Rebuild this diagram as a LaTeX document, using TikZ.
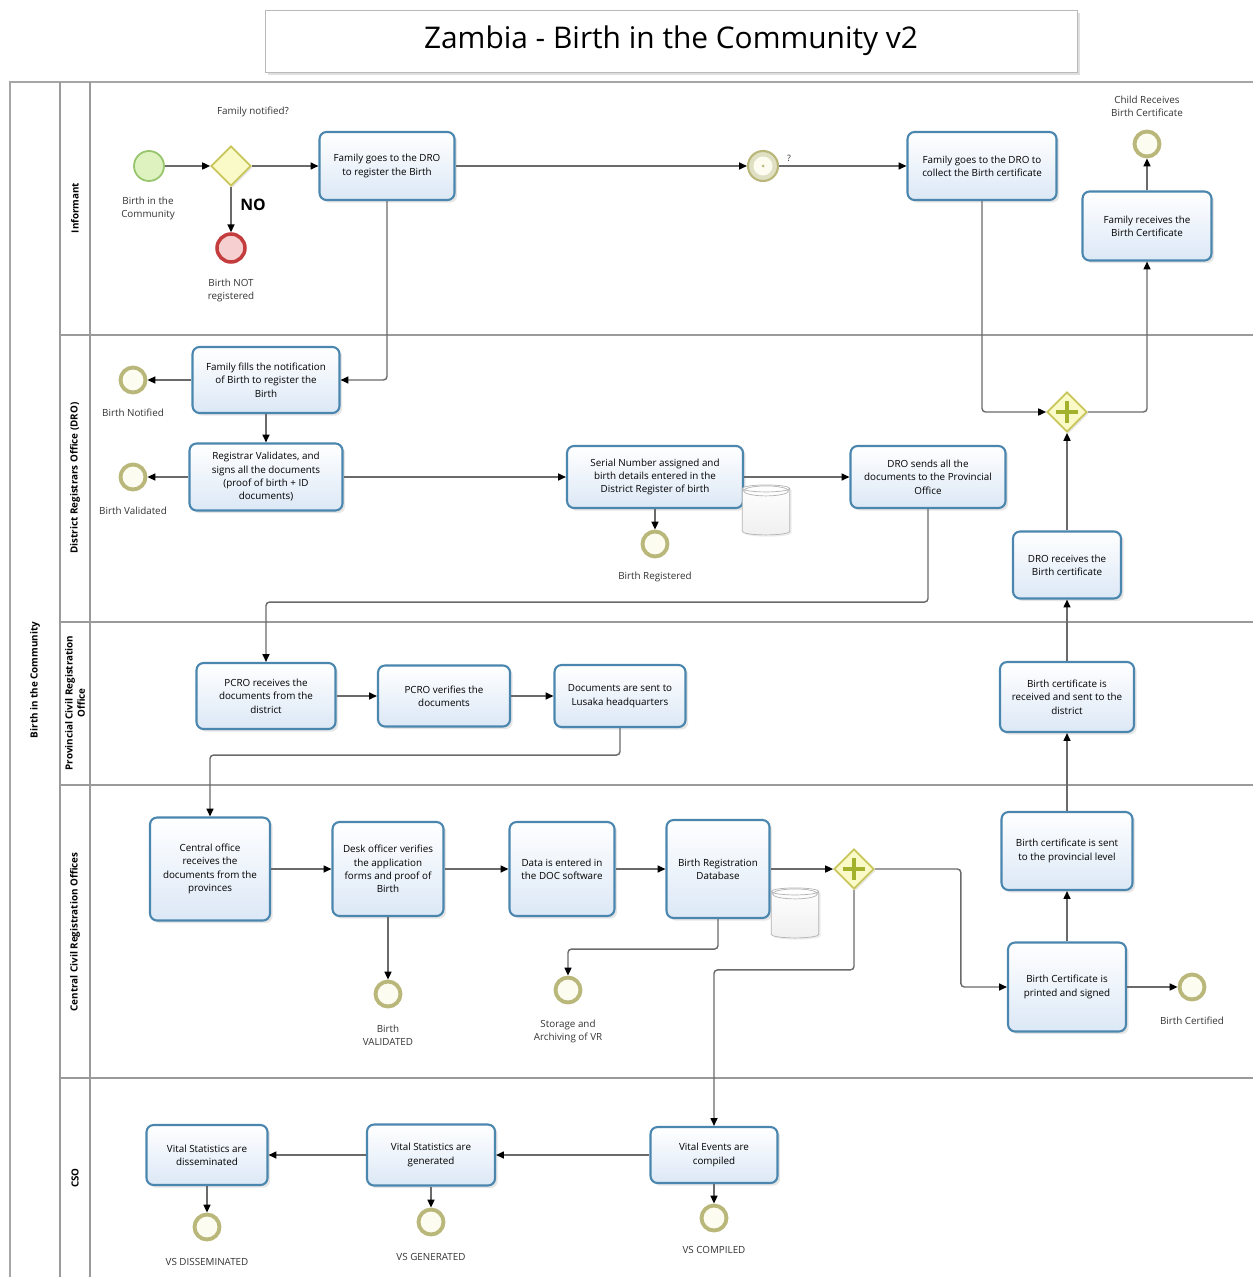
\documentclass[tikz,border=0pt]{standalone}
\usepackage{fontspec}
\setmainfont{Open Sans}
\usepackage{tikz}
\usetikzlibrary{arrows.meta,shapes.geometric,shadows}

\definecolor{laneline}{HTML}{9A9A9A}
\definecolor{taskedge}{HTML}{4A86AE}
\definecolor{taskfill}{HTML}{DCE8F6}
\definecolor{evring}{HTML}{B9B77A}
\definecolor{evfill}{HTML}{FCFCF0}
\definecolor{startedge}{HTML}{96C56C}
\definecolor{startfill}{HTML}{DDF2BF}
\definecolor{stopedge}{HTML}{C43C3E}
\definecolor{stopfill}{HTML}{F6D0D0}
\definecolor{gateedge}{HTML}{C8C65A}
\definecolor{gatefill}{HTML}{FAFAC8}
\definecolor{plusgreen}{HTML}{A2B22C}
\definecolor{flowline}{HTML}{6A6A6A}

\tikzset{
  lane/.style={draw=laneline, line width=0.9pt},
  task/.style={draw=taskedge, line width=1.2pt, rounded corners=4pt,
    top color=white, bottom color=taskfill, align=center, inner sep=2pt,
    font=\fontsize{5.6}{7.6}\selectfont,
    drop shadow={opacity=0.2, shadow xshift=1.5pt, shadow yshift=-1.5pt}},
  endev/.style={circle, draw=evring, line width=2.2pt, fill=evfill,
    minimum size=0.5cm, inner sep=0pt},
  startev/.style={circle, draw=startedge, line width=1pt, fill=startfill,
    minimum size=0.6cm, inner sep=0pt},
  stopev/.style={circle, draw=stopedge, line width=2pt, fill=stopfill,
    minimum size=0.56cm, inner sep=0pt},
  interev/.style={circle, draw=evring, line width=1.2pt, fill=evring!45,
    minimum size=0.6cm, inner sep=0pt,
    path picture={\fill[evfill] (path picture bounding box.center) circle (0.19cm);
      \fill[evring] (path picture bounding box.center) circle (0.03cm);}},
  gate/.style={diamond, draw=gateedge, line width=1pt, fill=gatefill,
    minimum width=0.8cm, minimum height=0.8cm, inner sep=0pt,
    drop shadow={opacity=0.2, shadow xshift=1pt, shadow yshift=-1pt}},
  pgate/.style={gate, path picture={
    \draw[plusgreen, line width=2.4pt]
      ([yshift=-2.2mm]path picture bounding box.center) -- ([yshift=2.2mm]path picture bounding box.center)
      ([xshift=-2.2mm]path picture bounding box.center) -- ([xshift=2.2mm]path picture bounding box.center);}},
  store/.style={cylinder, shape border rotate=90, aspect=0.6, draw=gray!60,
    top color=white, bottom color=gray!12, minimum width=0.95cm, minimum height=1cm,
    drop shadow={opacity=0.15, shadow xshift=1pt, shadow yshift=-1pt},
    path picture={\draw[gray!60] ([yshift=-0.12cm]path picture bounding box.north) ellipse (0.45cm and 0.1cm);}},
  flow/.style={draw=flowline, line width=0.8pt, rounded corners=2pt,
    -{Triangle[length=4.5pt, width=4pt, black]}},
  lbl/.style={align=center, text=black!80, font=\fontsize{5.6}{7.4}\selectfont},
  lanelbl/.style={rotate=90, align=center, font=\bfseries\fontsize{5.6}{7}\selectfont}
}

\begin{document}
\begin{tikzpicture}[x=0.02cm, y=-0.02cm]
\useasboundingbox (0,0) rectangle (1253,1277);

% Title
\node[draw=gray!55, fill=white, minimum width=16.24cm, minimum height=1.24cm,
  font=\fontsize{17}{20}\selectfont,
  drop shadow={opacity=0.25, shadow xshift=1.5pt, shadow yshift=-1.5pt}]
  (title) at (671,41) {Zambia - Birth in the Community v2};

% Draw pool and lanes
\draw[lane, line width=1.4pt, draw=gray!70] (10,1277) -- (10,82) -- (1253,82);
\draw[lane] (60,82) -- (60,1277);
\draw[lane] (90,82) -- (90,1277);
\draw[lane] (60,335) -- (1253,335);
\draw[lane] (60,622) -- (1253,622);
\draw[lane] (60,785) -- (1253,785);
\draw[lane] (60,1078) -- (1253,1078);

% Label pool and lanes
\node[lanelbl] (poolname) at (35,680) {Birth in the Community};
\node[lanelbl] (lInf) at (75,208) {Informant};
\node[lanelbl] (lDro) at (75,478) {District Registrars Office (DRO)};
\node[lanelbl] (lProv) at (75,703) {Provincial Civil Registration\\Office};
\node[lanelbl] (lCent) at (75,932) {Central Civil Registration Offices};
\node[lanelbl] (lCso) at (75,1178) {CSO};

% Informant lane
\node[startev] (start) at (149,166) {};
\node[lbl] (lstart) at (148,208) {Birth in the\\Community};
\node[gate] (gw1) at (231,166) {};
\node[lbl] (lgw1) at (253,112) {Family notified?};
\node[stopev] (notreg) at (231,248) {};
\node[lbl] (lnotreg) at (231,290) {Birth NOT\\registered};
\node[font=\bfseries\fontsize{9}{10}\selectfont] (no) at (253,205) {NO};
\node[task, minimum width=2.7cm, minimum height=1.36cm] (t1) at (387,166)
  {Family goes to the DRO\\to register the Birth};
\node[interev] (ev1) at (763,166) {};
\node[lbl, font=\fontsize{5}{6}\selectfont] (lev1) at (789,158) {?};
\node[task, minimum width=2.98cm, minimum height=1.36cm] (collect) at (982,166)
  {Family goes to the DRO to\\collect the Birth certificate};
\node[task, minimum width=2.58cm, minimum height=1.38cm] (recv) at (1147,226)
  {Family receives the\\Birth Certificate};
\node[endev] (child) at (1147,144) {};
\node[lbl] (lchild) at (1147,106) {Child Receives\\Birth Certificate};

% DRO lane
\node[task, minimum width=2.94cm, minimum height=1.32cm] (fills) at (266,380)
  {Family fills the notification\\of Birth to register the\\Birth};
\node[endev] (notified) at (133,380) {};
\node[lbl] (lnotified) at (133,413) {Birth Notified};
\node[task, minimum width=3.06cm, minimum height=1.34cm] (valid) at (266,477)
  {Registrar Validates, and\\signs all the documents\\(proof of birth + ID\\documents)};
\node[endev] (validated) at (133,477) {};
\node[lbl] (lvalidated) at (133,511) {Birth Validated};
\node[task, minimum width=3.52cm, minimum height=1.24cm] (serial) at (655,477)
  {Serial Number assigned and\\birth details entered in the\\District Register of birth};
\node[store] (db1) at (766,513) {};
\node[endev] (registered) at (655,544) {};
\node[lbl] (lregistered) at (655,577) {Birth Registered};
\node[task, minimum width=3.1cm, minimum height=1.24cm] (sends) at (928,477)
  {DRO sends all the\\documents to the Provincial\\Office};
\node[pgate] (gw2) at (1067,412) {};
\node[task, minimum width=2.16cm, minimum height=1.34cm] (drorecv) at (1067,565)
  {DRO receives the\\Birth certificate};

% Provincial lane
\node[task, minimum width=2.78cm, minimum height=1.32cm] (pcrorec) at (266,696)
  {PCRO receives the\\documents from the\\district};
\node[task, minimum width=2.64cm, minimum height=1.22cm] (pcrover) at (444,696)
  {PCRO verifies the\\documents};
\node[task, minimum width=2.62cm, minimum height=1.24cm] (docsent) at (620,696)
  {Documents are sent to\\Lusaka headquarters};
\node[task, minimum width=2.68cm, minimum height=1.4cm] (certrecv) at (1067,697)
  {Birth certificate is\\received and sent to the\\district};

% Central lane
\node[task, minimum width=2.4cm, minimum height=2.06cm] (central) at (210,869)
  {Central office\\receives the\\documents from the\\provinces};
\node[task, minimum width=2.22cm, minimum height=1.88cm] (desk) at (388,869)
  {Desk officer verifies\\the application\\forms and proof of\\Birth};
\node[endev] (bvalid) at (388,994) {};
\node[lbl] (lbvalid) at (388,1035) {Birth\\VALIDATED};
\node[task, minimum width=2.1cm, minimum height=1.88cm] (data) at (562,869)
  {Data is entered in\\the DOC software};
\node[task, minimum width=2.06cm, minimum height=1.96cm] (db) at (718,869)
  {Birth Registration\\Database};
\node[store] (db2) at (795,916) {};
\node[endev] (storage) at (568,990) {};
\node[lbl] (lstorage) at (568,1031) {Storage and\\Archiving of VR};
\node[pgate] (gw3) at (854,869) {};
\node[task, minimum width=2.62cm, minimum height=1.56cm] (certsent) at (1067,851)
  {Birth certificate is sent\\to the provincial level};
\node[task, minimum width=2.36cm, minimum height=1.78cm] (printed) at (1067,987)
  {Birth Certificate is\\printed and signed};
\node[endev] (certified) at (1192,987) {};
\node[lbl] (lcertified) at (1192,1021) {Birth Certified};

% CSO lane
\node[task, minimum width=2.54cm, minimum height=1.12cm] (compiled) at (714,1155)
  {Vital Events are\\compiled};
\node[task, minimum width=2.56cm, minimum height=1.22cm] (generated) at (431,1155)
  {Vital Statistics are\\generated};
\node[task, minimum width=2.42cm, minimum height=1.2cm] (dissem) at (207,1155)
  {Vital Statistics are\\disseminated};
\node[endev] (vscomp) at (714,1218) {};
\node[lbl] (lvscomp) at (714,1250) {VS COMPILED};
\node[endev] (vsgen) at (431,1222) {};
\node[lbl] (lvsgen) at (431,1257) {VS GENERATED};
\node[endev] (vsdiss) at (207,1227) {};
\node[lbl] (lvsdiss) at (207,1262) {VS DISSEMINATED};

% Sequence flows
\draw[flow] (start) -- (gw1);
\draw[flow] (gw1) -- (t1);
\draw[flow] (gw1) -- (notreg);
\draw[flow] (t1) -- (ev1);
\draw[flow] (ev1) -- (collect);
\draw[flow] (collect.south) |- (gw2.west);
\draw[flow] (gw2.east) -| (recv.south);
\draw[flow] (recv) -- (child);
\draw[flow] (t1.south) |- (fills.east);
\draw[flow] (fills) -- (notified);
\draw[flow] (fills) -- (valid);
\draw[flow] (valid) -- (validated);
\draw[flow] (valid) -- (serial);
\draw[flow] (serial) -- (registered);
\draw[flow] (serial) -- (sends);
\draw[flow] (sends.south) -- ++(0,93) -| (pcrorec.north);
\draw[flow] (drorecv) -- (gw2);
\draw[flow] (pcrorec) -- (pcrover);
\draw[flow] (pcrover) -- (docsent);
\draw[flow] (docsent.south) -- ++(0,27) -| (central.north);
\draw[flow] (certrecv) -- (drorecv);
\draw[flow] (central) -- (desk);
\draw[flow] (desk) -- (data);
\draw[flow] (data) -- (db);
\draw[flow] (db) -- (gw3);
\draw[flow] (desk) -- (bvalid);
\draw[flow] (db.south) -- ++(0,30) -| (storage.north);
\draw[flow] (gw3.east) -- ++(86,0) |- (printed.west);
\draw[flow] (gw3.south) -- ++(0,80) -| (compiled.north);
\draw[flow] (printed) -- (certsent);
\draw[flow] (certsent) -- (certrecv);
\draw[flow] (printed) -- (certified);
\draw[flow] (compiled) -- (generated);
\draw[flow] (generated) -- (dissem);
\draw[flow] (compiled) -- (vscomp);
\draw[flow] (generated) -- (vsgen);
\draw[flow] (dissem) -- (vsdiss);
\end{tikzpicture}
\end{document}
